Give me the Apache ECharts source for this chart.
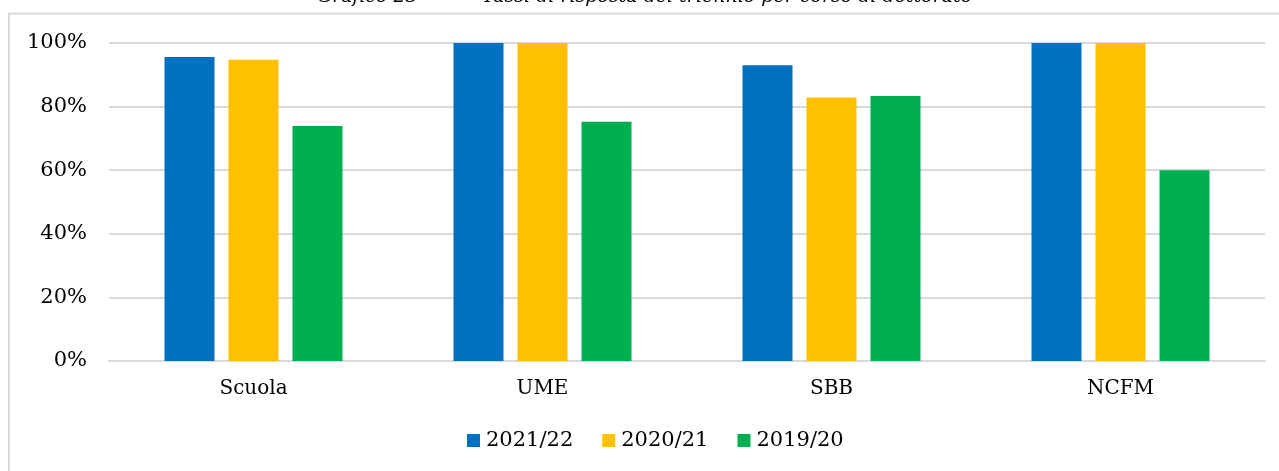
<!DOCTYPE html>
<html>
<head>
<meta charset="utf-8">
<script src="https://cdn.jsdelivr.net/npm/echarts@6/dist/echarts.min.js"></script>
<style>html,body{margin:0;padding:0;background:#fff}#c{width:1279px;height:471px}</style>
</head>
<body>
<div id="c"></div>
<script>
const categories = ['Scuola', 'UME', 'SBB', 'NCFM'];
const seriesNames = ['2021/22', '2020/21', '2019/20'];
const values2122 = [95.6, 100, 93.0, 100];
const values2021 = [94.7, 100, 82.9, 100];
const values1920 = [73.9, 75.2, 83.3, 60.0];
const colors = ['#0070C0', '#FFC000', '#00B050'];
const titleLeft = 'Grafico 23';
const titleRight = 'Tassi di risposta del triennio per corso di dottorato';

const font = 'DejaVu Serif';
const chart = echarts.init(document.getElementById('c'));
const dataSets = [values2122, values2021, values1920];
chart.setOption({
  animation: false,
  color: colors,
  grid: { left: 109, right: 14, top: 43, bottom: 110 },
  legend: {
    data: seriesNames,
    bottom: 15,
    left: 462,
    itemWidth: 13, itemHeight: 13, itemGap: 29,
    icon: 'rect',
    textStyle: { fontFamily: font, fontSize: 21, color: '#000', padding: [0, 0, 0, 1] }
  },
  xAxis: {
    type: 'category',
    data: categories,
    axisLine: { lineStyle: { color: '#d9d9d9', width: 2 } },
    axisTick: { show: false },
    axisLabel: { fontFamily: font, fontSize: 20, color: '#000', margin: 18 }
  },
  yAxis: {
    type: 'value',
    min: 0, max: 100, interval: 20,
    axisLine: { show: false },
    axisTick: { show: false },
    splitLine: { lineStyle: { color: '#d9d9d9', width: 2 } },
    axisLabel: { fontFamily: font, fontSize: 21, color: '#000', margin: 22, formatter: v => v + '%' }
  },
  series: seriesNames.map((n, i) => ({
    name: n, type: 'bar', data: dataSets[i], barWidth: 50, barGap: '28%'
  })),
  graphic: [
    { type: 'line', shape: { x1: 9, y1: 13.5, x2: 1279, y2: 13.5 }, style: { stroke: '#d9d9d9', lineWidth: 2 } },
    { type: 'line', shape: { x1: 9, y1: 13, x2: 9, y2: 471 }, style: { stroke: '#d9d9d9', lineWidth: 2 } },
    { type: 'text', left: 317, top: -12, style: { text: titleLeft, font: 'italic 19px "DejaVu Serif"', fill: '#000' } },
    { type: 'text', left: 482, top: -12, style: { text: titleRight, font: 'italic 19px "DejaVu Serif"', fill: '#000' } }
  ]
});
</script>
</body>
</html>
